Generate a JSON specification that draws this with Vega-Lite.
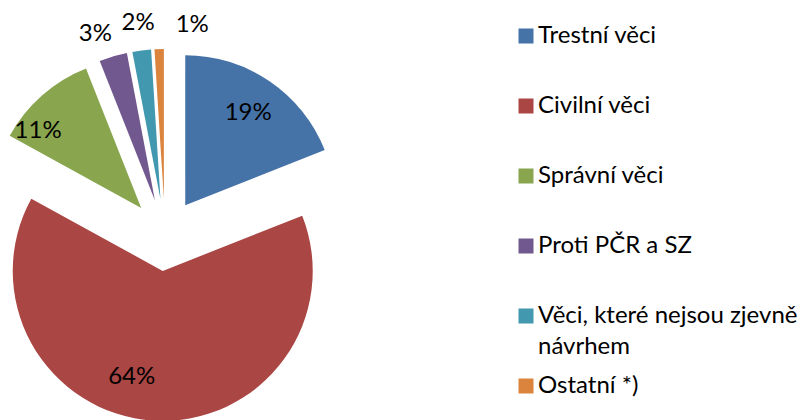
{
  "$schema": "https://vega.github.io/schema/vega-lite/v6.json",
  "width": 330,
  "height": 420,
  "autosize": {"type": "none"},
  "padding": {"left": 0, "top": 0, "right": 480, "bottom": 0},
  "background": "white",
  "config": {"view": {"stroke": null}, "font": "Lato"},
  "data": {
    "values": [
      {"cat": "Trestní věci", "value": 0.19, "idx": 1},
      {"cat": "Civilní věci", "value": 0.64, "idx": 2},
      {"cat": "Správní věci", "value": 0.11, "idx": 3},
      {"cat": "Proti PČR a SZ", "value": 0.03, "idx": 4},
      {"cat": "Věci, které nejsou zjevně návrhem", "value": 0.02, "idx": 5},
      {"cat": "Ostatní *)", "value": 0.01, "idx": 6}
    ]
  },
  "encoding": {
    "theta": {"field": "value", "type": "quantitative", "stack": true},
    "order": {"field": "idx", "type": "quantitative", "sort": "ascending"}
  },
  "layer": [
    {
      "mark": {
        "type": "arc",
        "radius": 150,
        "xOffset": {"expr": "36*sin(scale('theta', (datum.value_start + datum.value_end)/2))"},
        "yOffset": {"expr": "25 - 36*cos(scale('theta', (datum.value_start + datum.value_end)/2))"}
      },
      "encoding": {
        "color": {
          "field": "cat",
          "type": "nominal",
          "scale": {
            "domain": ["Trestní věci", "Civilní věci", "Správní věci", "Proti PČR a SZ", "Věci, které nejsou zjevně návrhem", "Ostatní *)"],
            "range": ["#4572A7", "#AA4643", "#89A54E", "#71588F", "#4198AF", "#DB843D"]
          },
          "legend": {
            "orient": "none",
            "legendX": 514,
            "legendY": 24,
            "title": null,
            "symbolType": "square",
            "symbolSize": 225,
            "symbolStrokeWidth": 0,
            "labelFont": "Lato",
            "labelFontSize": 24,
            "labelColor": "black",
            "labelOffset": 0,
            "rowPadding": 15,
            "labelLimit": 320,
            "labelExpr": "datum.label == 'Věci, které nejsou zjevně návrhem' ? ['Věci, které nejsou zjevně', 'návrhem'] : [datum.label, '']",
            "encode": {"labels": {"update": {"lineHeight": {"value": 31}}}}
          }
        }
      }
    },
    {
      "mark": {
        "type": "text",
        "font": "Lato",
        "fontSize": 24,
        "radius": {"expr": "datum.value >= 0.05 ? 112 : 178"},
        "xOffset": {"expr": "36*sin(scale('theta', (datum.value_start + datum.value_end)/2))"},
        "yOffset": {"expr": "25 - 36*cos(scale('theta', (datum.value_start + datum.value_end)/2))"},
        "dx": {"expr": "datum.idx == 2 ? -24 : datum.idx == 3 ? -29 : datum.idx == 4 ? -10 : datum.idx == 6 ? 34 : 0"},
        "dy": {"expr": "datum.idx == 2 ? -6 : datum.idx == 3 ? 7 : datum.idx == 4 ? 5 : datum.idx == 6 ? 4 : 0"}
      },
      "encoding": {
        "detail": {"field": "cat"},
        "color": {"value": "black"},
        "text": {"field": "value", "type": "quantitative", "format": ".0%"}
      }
    }
  ]
}
